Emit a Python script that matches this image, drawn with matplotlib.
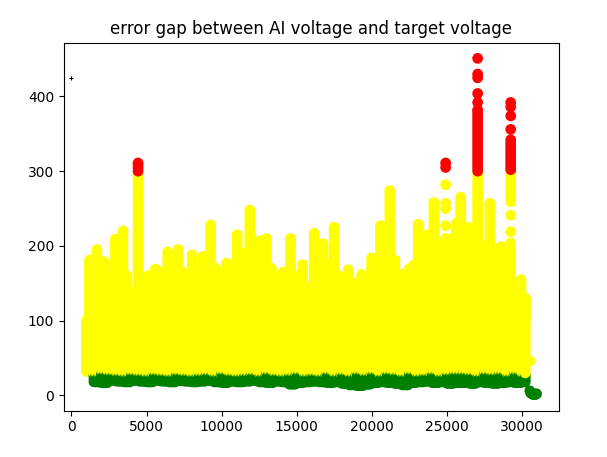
import numpy as np
import matplotlib
matplotlib.use("Agg")
import matplotlib.pyplot as plt

# ---- data ----
bin_start = 1000
bin_width = 500
# top of the dense body per 500-unit bin (x = 1000, 1500, ..., 30000)
body_top = [100, 135, 140, 130, 135, 140, 125, 130, 140, 145,
            140, 145, 150, 140, 145, 140, 145, 140, 135, 145,
            150, 145, 150, 145, 140, 140, 135, 140, 140, 135,
            145, 140, 145, 140, 135, 130, 135, 140, 145, 140,
            150, 145, 140, 145, 150, 145, 150, 155, 150, 160,
            165, 160, 165, 160, 155, 150, 150, 145, 130]
# lowest (green) value per bin
green_low = [32, 18, 17, 20, 19, 18, 20, 19, 18, 20,
             19, 18, 20, 19, 18, 19, 20, 18, 17, 19,
             18, 19, 20, 18, 17, 19, 18, 15, 17, 18,
             19, 18, 17, 18, 16, 14, 13, 15, 17, 18,
             17, 16, 14, 17, 18, 19, 17, 18, 16, 17,
             17, 16, 18, 17, 16, 17, 18, 17, 18]
# tall columns: x, top value
spike_x = [1200, 1450, 1700, 1900, 2150, 2400, 2700, 2930, 3200, 3436,
           3700, 3950, 4434, 4800, 5100, 5350, 5590, 5900, 6150, 6411,
           6700, 7100, 7400, 7700, 8030, 8300, 8760, 9000, 9255, 9600,
           9900, 10320, 10600, 11026, 11400, 11871, 12200, 12537, 12983, 13300,
           13715, 14100, 14580, 15000, 15380, 15700, 16155, 16450, 16750, 17100,
           17485, 17800, 18100, 18415, 18800, 19310, 19600, 19975, 20300, 20570,
           20900, 21190, 21525, 21800, 22145, 22500, 22800, 23075, 23400, 23700,
           24120, 24500, 24900, 25300, 25600, 25900, 26200, 26400, 26700, 27030,
           27400, 27850, 28200, 28580, 28900, 29230, 29600, 29914, 30200]
spike_top = [181, 150, 195, 165, 179, 140, 160, 209, 175, 220,
             160, 130, 311, 150, 160, 160, 169, 165, 150, 192,
             170, 195, 165, 160, 188, 165, 186, 150, 228, 170,
             150, 177, 165, 215, 190, 248, 180, 207, 210, 170,
             160, 165, 210, 160, 175, 145, 217, 170, 203, 175,
             225, 160, 150, 168, 150, 162, 150, 184, 160, 227,
             175, 274, 181, 160, 163, 170, 175, 229, 190, 215,
             258, 200, 210, 210, 230, 265, 205, 225, 215, 382,
             200, 257, 180, 199, 160, 195, 150, 155, 130]
# separate dots above / inside the tall columns
iso_x = [24900, 24900, 24900, 24900, 24900, 24900,
         27030, 27030, 27030, 27030, 27030,
         29230, 29230, 29230, 29230, 29230, 29230, 29230, 29230]
iso_y = [227, 250, 257, 282, 305, 311,
         392, 404, 425, 430, 451,
         204, 219, 241, 259, 356, 374, 386, 392]
# continuous upper part of the 29230 column
seg_x = [29230]
seg_lo = [266]
seg_hi = [342]
# points after the body
tail_x = [30513, 30500, 30560, 30650, 30720, 30800, 30880, 30950]
tail_y = [46, 6, 3, 2, 1, 2, 1, 2]
# single small cross
cross_x = [0]
cross_y = [425]

yellow_min = 30
red_min = 300
title = "error gap between AI voltage and target voltage"

# ---- build the scatter points ----
xs, ys = [], []
step_y = 4
for cx in range(bin_start, 30300, 100):
    i = min((cx - bin_start) // bin_width, len(body_top) - 1)
    col = np.append(np.arange(green_low[i], body_top[i], step_y), body_top[i])
    xs += [cx] * len(col)
    ys += list(col)
for sx, st in zip(spike_x, spike_top):
    col = np.append(np.arange(100, st, step_y), st)
    xs += [sx] * len(col)
    ys += list(col)
for sx, lo, hi in zip(seg_x, seg_lo, seg_hi):
    col = np.append(np.arange(lo, hi, step_y), hi)
    xs += [sx] * len(col)
    ys += list(col)
xs += iso_x
ys += iso_y
xs += tail_x
ys += tail_y

xs = np.array(xs, dtype=float)
ys = np.array(ys, dtype=float)
order = np.argsort(xs, kind="stable")
xs, ys = xs[order], ys[order]
colors = np.where(ys >= red_min, "red", np.where(ys >= yellow_min, "yellow", "green"))

fig = plt.figure(figsize=(6.07, 4.57), dpi=100)
ax = fig.add_axes([64 / 607, (457 - 410.7) / 457, (559 - 64) / 607, (410.7 - 42.7) / 457])
ax.scatter(xs, ys, c=colors, s=45)
ax.plot(cross_x, cross_y, "k+", ms=3, mew=0.8)
ax.set_xlim(-493, 32443)
ax.set_ylim(-20.6, 472)
ax.set_title(title)
fig.savefig("out.png", dpi=100)
